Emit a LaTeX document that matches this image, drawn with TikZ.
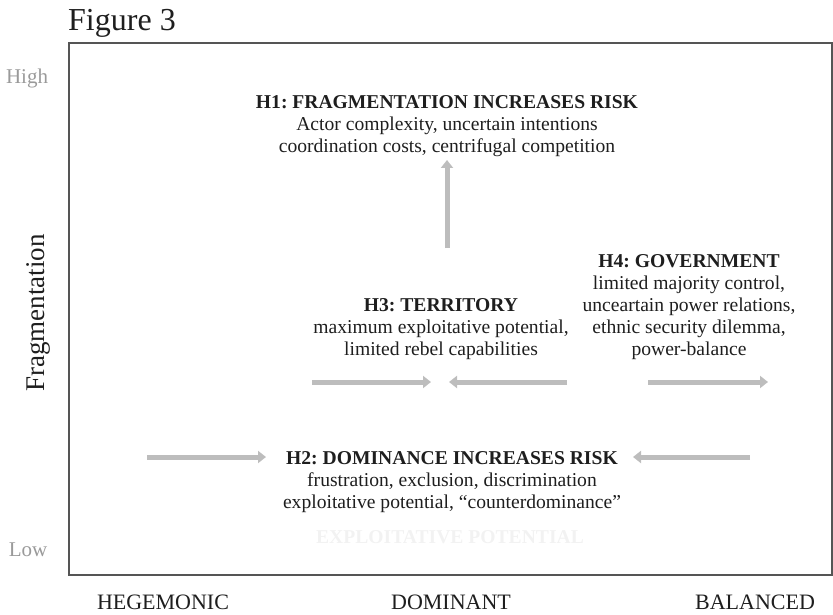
\documentclass[tikz,border=0pt]{standalone}
\usepackage{fontspec}
\setmainfont{Liberation Serif}
\usetikzlibrary{arrows.meta}
\definecolor{arrowgray}{HTML}{BDBDBD}
\definecolor{txt}{HTML}{1E1E1E}
\definecolor{axisgray}{HTML}{9A9A9A}
\definecolor{framegray}{HTML}{555555}
\frenchspacing
\tikzset{
  x=1pt,y=1pt,
  hyp/.style={align=center, text=txt, font=\fontsize{19.6}{22}\selectfont, inner sep=0pt},
  axislab/.style={text=axisgray, font=\fontsize{21}{24}\selectfont, inner sep=0pt},
  catlab/.style={text=txt, font=\fontsize{22}{24}\selectfont, inner sep=0pt},
  bigarrow/.style={draw=arrowgray, line width=5pt, -{Triangle[length=8pt,width=12pt]}},
}
\begin{document}
\begin{tikzpicture}
\useasboundingbox (0,0) rectangle (833,-615);
% frame
\draw[framegray, line width=1.3pt] (69,-43) rectangle (832,-575);
% title
\node[anchor=base west, inner sep=0pt, text=txt, font=\fontsize{32}{36}\selectfont] (title) at (68,-31) {Figure 3};
% axis labels
\node[axislab] (high) at (27,-78) {High};
\node[axislab] (low) at (28,-550) {Low};
\node[rotate=90, text=txt, inner sep=0pt, font=\fontsize{27}{30}\selectfont] (frag) at (38,-313) {Fragmentation};
\node[catlab] (heg) at (163,-602) {HEGEMONIC};
\node[catlab] (dom) at (451,-602) {DOMINANT};
\node[catlab] (bal) at (755,-602) {BALANCED};
% hypotheses
\node[hyp] (h1) at (447,-126) {\textbf{H1: FRAGMENTATION INCREASES RISK}\\Actor complexity, uncertain intentions\\coordination costs, centrifugal competition};
\node[hyp] (h3) at (441,-329) {\textbf{H3: TERRITORY}\\maximum exploitative potential,\\limited rebel capabilities};
\node[hyp] (h4) at (689,-307) {\textbf{H4: GOVERNMENT}\\limited majority control,\\unceartain power relations,\\ethnic security dilemma,\\power-balance};
\node[hyp] (h2) at (452,-482) {\textbf{H2: DOMINANCE INCREASES RISK}\\frustration, exclusion, discrimination\\exploitative potential, ``counterdominance''};
\node[hyp, text=gray!10] (ep) at (450,-537) {\textbf{EXPLOITATIVE POTENTIAL}};
% arrow end points
\coordinate (a1s) at (447,-248); \coordinate (a1e) at (447,-160);
\coordinate (a2s) at (312,-382); \coordinate (a2e) at (431,-382);
\coordinate (a3s) at (567,-382); \coordinate (a3e) at (449,-382);
\coordinate (a4s) at (648,-382); \coordinate (a4e) at (768,-382);
\coordinate (a5s) at (147,-457); \coordinate (a5e) at (266,-457);
\coordinate (a6s) at (750,-457); \coordinate (a6e) at (633,-457);
\draw[bigarrow] (a1s) -- (a1e);
\draw[bigarrow] (a2s) -- (a2e);
\draw[bigarrow] (a3s) -- (a3e);
\draw[bigarrow] (a4s) -- (a4e);
\draw[bigarrow] (a5s) -- (a5e);
\draw[bigarrow] (a6s) -- (a6e);
\end{tikzpicture}
\end{document}
